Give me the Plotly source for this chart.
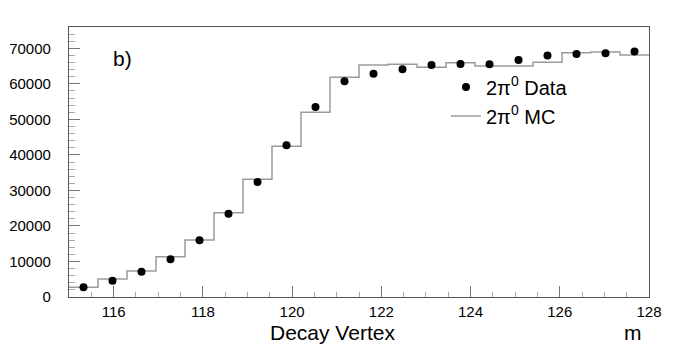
import numpy as np
import plotly.graph_objects as go

# histogram binning (20 bins of 0.65 m from 115 to 128)
bin_edges = list(np.round(115 + 0.65 * np.arange(21), 3))
bin_centers = [round((a + b) / 2, 3) for a, b in zip(bin_edges[:-1], bin_edges[1:])]

# 2pi0 data (points)
data_counts = [2730, 4590, 7120, 10610, 15960, 23450, 32370, 42700, 53490, 60710,
               62860, 64090, 65300, 65600, 65500, 66700, 68000, 68400, 68600, 69100]

# 2pi0 MC (histogram levels)
mc_counts = [2730, 5070, 7320, 11340, 16050, 23730, 33130, 42420, 52000, 61840,
             65310, 65500, 64660, 65950, 65030, 65030, 66060, 68770, 68970, 68120]

fig = go.Figure()

fig.add_trace(go.Scatter(
    x=bin_edges,
    y=mc_counts + [mc_counts[-1]],
    mode='lines',
    line=dict(color='#9a9a9a', width=1.5, shape='hv'),
    name='2π<sup>0</sup> MC',
))

fig.add_trace(go.Scatter(
    x=bin_centers,
    y=data_counts,
    mode='markers',
    marker=dict(color='black', size=8),
    name='2π<sup>0</sup> Data',
))

axis_font = dict(family='Liberation Sans, Arial, sans-serif', size=15, color='black')

fig.update_xaxes(
    range=[115, 128],
    tickvals=[116, 118, 120, 122, 124, 126, 128],
    ticks='inside', ticklen=11, tickcolor='#777', tickwidth=1,
    minor=dict(dtick=0.5, ticks='inside', ticklen=5, tickcolor='#aaa'),
    showline=True, linecolor='#555', linewidth=1.2, mirror=True,
    showgrid=False, zeroline=False, automargin=False,
    tickfont=axis_font, ticklabelstandoff=1,
)
fig.update_yaxes(
    range=[0, 76000],
    tickvals=[0, 10000, 20000, 30000, 40000, 50000, 60000, 70000],
    tickformat='d',
    ticks='inside', ticklen=11, tickcolor='#777', tickwidth=1,
    minor=dict(dtick=2000, ticks='inside', ticklen=6, tickcolor='#aaa'),
    showline=True, linecolor='#555', linewidth=1.2, mirror=True,
    showgrid=False, zeroline=False, automargin=False,
    tickfont=axis_font, ticklabelstandoff=14,
)

# page body has an 8px margin, so the figure is shrunk by that much
fig.update_layout(
    width=690, height=355,
    margin=dict(l=61, r=49, t=19, b=66),
    plot_bgcolor='white', paper_bgcolor='white',
    font=dict(family='Liberation Sans, Arial, sans-serif', color='black'),
    showlegend=True,
    legend=dict(
        x=0.65, y=0.85, xanchor='left', yanchor='top',
        font=dict(size=20), bgcolor='rgba(0,0,0,0)',
        traceorder='reversed', itemwidth=30, tracegroupgap=0,
    ),
    annotations=[
        dict(text='b)', x=0.092, y=0.884, xref='paper', yref='paper',
             xanchor='center', yanchor='middle', showarrow=False, font=dict(size=21)),
        dict(text='Decay Vertex', x=0.454, y=-0.133, xref='paper', yref='paper',
             xanchor='center', yanchor='middle', showarrow=False, font=dict(size=21)),
        dict(text='m', x=0.973, y=-0.133, xref='paper', yref='paper',
             xanchor='center', yanchor='middle', showarrow=False, font=dict(size=21)),
    ],
)

fig.write_html("out.html")
